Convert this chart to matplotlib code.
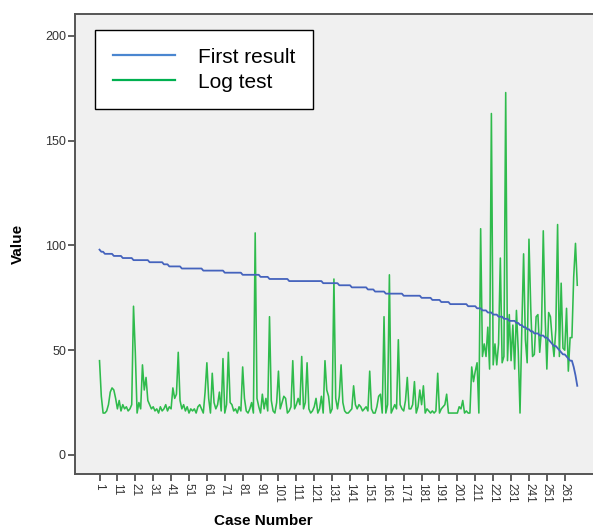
import numpy as np
import matplotlib
matplotlib.use("Agg")
from matplotlib import pyplot as plt
from matplotlib.lines import Line2D

# case numbers 1..268
first_result = [
    98, 97, 97, 96, 96, 96, 96, 96, 95, 95, 95, 95, 95, 94, 94, 94, 94, 94, 94, 93,
    93, 93, 93, 93, 93, 93, 93, 93, 92, 92, 92, 92, 92, 92, 92, 92, 91, 91, 91, 90,
    90, 90, 90, 90, 90, 90, 89, 89, 89, 89, 89, 89, 89, 89, 89, 89, 89, 89, 88, 88,
    88, 88, 88, 88, 88, 88, 88, 88, 88, 88, 87, 87, 87, 87, 87, 87, 87, 87, 87, 87,
    86, 86, 86, 86, 86, 86, 86, 86, 86, 86, 85, 85, 85, 85, 85, 84, 84, 84, 84, 84,
    84, 84, 84, 84, 84, 84, 83, 83, 83, 83, 83, 83, 83, 83, 83, 83, 83, 83, 83, 83,
    83, 83, 83, 83, 83, 82, 82, 82, 82, 82, 82, 82, 82, 82, 81, 81, 81, 81, 81, 81,
    81, 80, 80, 80, 80, 80, 80, 80, 80, 80, 79, 79, 79, 79, 78, 78, 78, 78, 78, 78,
    77, 77, 77, 77, 77, 77, 77, 77, 77, 77, 76, 76, 76, 76, 76, 76, 76, 76, 76, 76,
    75, 75, 75, 75, 75, 75, 74, 74, 74, 74, 74, 73, 73, 73, 73, 73, 72, 72, 72, 72,
    72, 72, 72, 72, 72, 72, 71, 71, 71, 71, 71, 70, 70, 70, 69, 69, 69, 68, 68, 68,
    67, 67, 67, 66, 66, 66, 65, 65, 65, 64, 64, 64, 64, 63, 63, 62, 62, 61, 61, 60,
    60, 59, 59, 58, 58, 58, 57, 57, 57, 56, 56, 55, 54, 53, 52, 52, 51, 50, 49, 48,
    48, 47, 46, 45, 45, 42, 38, 33,
]

log_test = [
    45, 28, 20, 20, 21, 24, 30, 32, 31, 27, 22, 26, 21, 24, 22, 23, 21, 22, 24, 71,
    49, 20, 25, 22, 43, 31, 37, 26, 24, 22, 23, 21, 22, 20, 23, 21, 22, 24, 21, 23,
    22, 32, 27, 29, 49, 26, 22, 24, 21, 23, 20, 22, 21, 22, 20, 23, 24, 22, 20, 30,
    44, 27, 20, 39, 25, 22, 24, 30, 21, 46, 20, 24, 49, 25, 24, 21, 22, 20, 23, 21,
    42, 27, 21, 20, 22, 25, 20, 106, 27, 23, 20, 29, 22, 27, 21, 66, 26, 21, 20, 25,
    40, 22, 25, 28, 27, 20, 21, 23, 45, 22, 24, 27, 24, 47, 22, 25, 44, 22, 20, 21,
    23, 27, 20, 22, 28, 20, 45, 31, 28, 20, 22, 84, 27, 22, 28, 43, 25, 21, 20, 20,
    21, 22, 33, 24, 22, 24, 23, 21, 22, 23, 21, 40, 22, 20, 20, 23, 28, 29, 20, 66,
    20, 24, 86, 20, 22, 24, 22, 55, 24, 22, 21, 26, 37, 22, 22, 24, 35, 20, 23, 31,
    24, 33, 20, 22, 21, 20, 21, 20, 21, 39, 20, 22, 23, 24, 29, 20, 20, 20, 20, 20,
    20, 23, 22, 26, 20, 21, 20, 20, 42, 35, 40, 44, 20, 108, 47, 53, 47, 61, 41, 163,
    43, 53, 43, 53, 94, 44, 47, 173, 45, 67, 45, 62, 41, 69, 50, 20, 60, 96, 55, 44,
    103, 70, 47, 48, 66, 67, 49, 60, 107, 67, 41, 68, 66, 55, 47, 60, 110, 47, 82, 51,
    50, 70, 40, 56, 56, 85, 101, 81,
]

case_ticks = list(range(1, 262, 10))
value_ticks = [0, 50, 100, 150, 200]

plt.rcParams['font.family'] = ['Liberation Sans', 'DejaVu Sans']

W, H = 593, 529
AX_L, AX_T, AX_B, AX_R = 75, 14, 474, 600
fig = plt.figure(figsize=(W / 100, H / 100), dpi=100)
ax = fig.add_axes([AX_L / W, (H - AX_B) / H, (AX_R - AX_L) / W, (AX_B - AX_T) / H])
ax.set_facecolor('#f0f0f0')

cases = np.arange(1, len(first_result) + 1)
ax.plot(cases, first_result, color='#4563bd', lw=1.3, zorder=3)
ax.plot(np.arange(1, len(log_test) + 1), log_test, color='#2fbb4c', lw=1.15, zorder=2)

ax.set_xlim(-12.7, 280.7)
ax.set_ylim(-9.1, 210.5)

for s in ax.spines.values():
    s.set_color('#555555')
    s.set_linewidth(1.4)
ax.spines['right'].set_visible(False)

ax.set_yticks(value_ticks)
ax.set_yticklabels([str(v) for v in value_ticks], fontsize=9, color='#333333')
ax.set_xticks(case_ticks)
ax.set_xticklabels([str(c) for c in case_ticks], fontsize=8.5, rotation=270, color='#333333')
ax.tick_params(axis='both', direction='out', length=5, width=1.2, color='#444444', pad=1.5)

ax.set_ylabel('Value', fontsize=11, fontweight='bold')
ax.yaxis.set_label_coords(-(AX_L - 25) / (AX_R - AX_L), 0.5)
fig.text(263 / W, 1 - 521 / H, 'Case Number', fontsize=11, fontweight='bold', ha='center', va='center')

handles = [Line2D([], [], color='#4a86d0', lw=1.6), Line2D([], [], color='#00b050', lw=1.6)]
leg = ax.legend(handles, ['First result', 'Log test'], loc='upper left',
                bbox_to_anchor=((95 - AX_L) / (AX_R - AX_L), 1 - (30 - AX_T) / (AX_B - AX_T)),
                fontsize=15, frameon=True, fancybox=False, framealpha=1,
                edgecolor='black', facecolor='white', handlelength=3.0,
                handletextpad=1.1, borderpad=0.85, labelspacing=0.28, borderaxespad=0)
leg.get_frame().set_linewidth(1.0)
leg.set_zorder(5)

fig.savefig('out.png', dpi=100)
